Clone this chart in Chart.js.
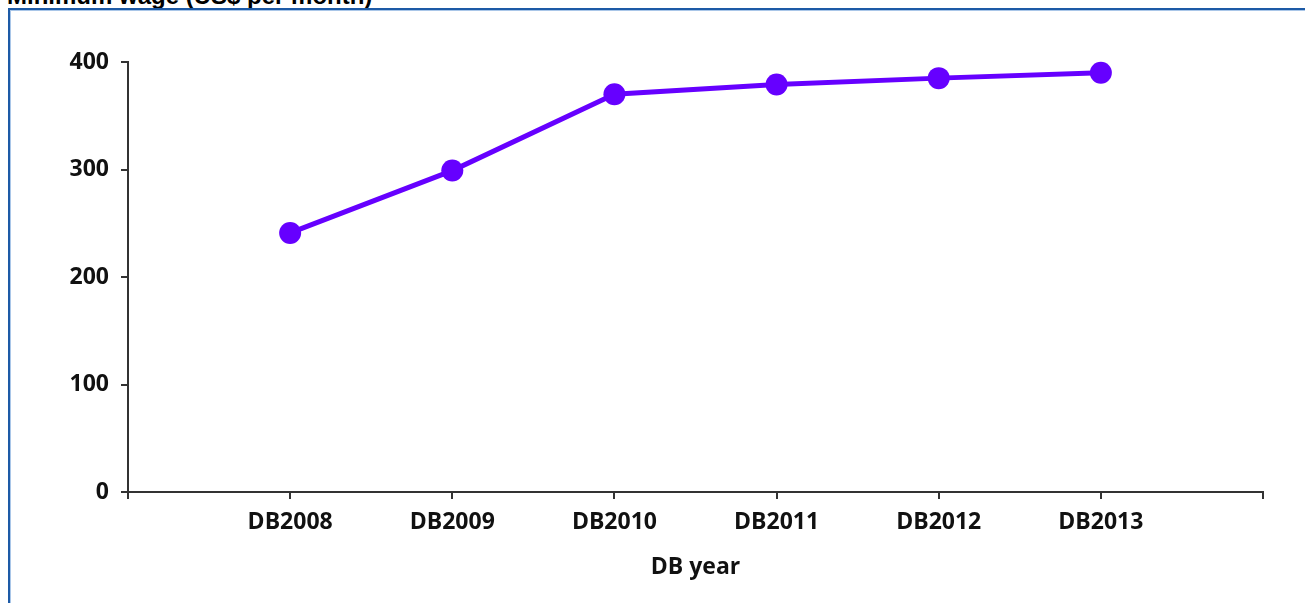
<!DOCTYPE html>
<html>
<head>
<meta charset="utf-8">
<script src="https://cdn.jsdelivr.net/npm/chart.js@4.4.1/dist/chart.umd.min.js"></script>
<style>
  html, body { margin: 0; padding: 0; background: #fff; overflow: hidden; }
  body { width: 1305px; height: 603px; position: relative; }
  #title {
    position: absolute; left: 7px; top: -16px;
    font: bold 24px "Liberation Sans", Arial, sans-serif;
    line-height: 24px; color: #000; white-space: nowrap;
  }
  #frame {
    position: absolute; left: 8px; top: 8px; width: 1400px; height: 700px;
    border-left: 2px solid #1d5aa6; border-top: 2px solid #1d5aa6;
    box-shadow: inset 1px 1px 0 #a9c6e8;
  }
  #wrap { position: absolute; left: 0; top: 0; width: 1305px; height: 603px; }
</style>
</head>
<body>
<div id="title">Minimum wage (US$ per month)</div>
<div id="frame"></div>
<div id="wrap"><canvas id="myChart" width="1305" height="603"></canvas></div>
<script>
var years = ["DB2008", "DB2009", "DB2010", "DB2011", "DB2012", "DB2013"];
var wage = [241, 299, 370, 379, 385, 390];
var yTicks = [0, 100, 200, 300, 400];

var LINE = '#6600ff';
var AXIS = '#333333';
var TEXT = '#111111';
var FONT = { family: '"Open Sans", sans-serif', size: 23, weight: 'bold' };

// blank slot on each side of the categories, like the original axis
var labels = [''].concat(years, ['']);
var values = [null].concat(wage, [null]);

new Chart("myChart", {
  type: "line",
  data: {
    labels: labels,
    datasets: [{
      label: 'Minimum wage',
      data: values,
      borderColor: LINE,
      backgroundColor: LINE,
      borderWidth: 5,
      pointRadius: 11,
      pointHoverRadius: 11,
      pointBorderWidth: 0,
      fill: false,
      tension: 0,
      clip: false
    }]
  },
  options: {
    responsive: false,
    animation: false,
    devicePixelRatio: 1,
    layout: { padding: { top: 62, right: 42, left: 0, bottom: 18 } },
    plugins: { legend: { display: false }, tooltip: { enabled: false } },
    scales: {
      x: {
        offset: false,
        grid: { display: true, drawOnChartArea: false, drawTicks: true, tickLength: 7, color: AXIS, lineWidth: 2 },
        border: { display: true, color: AXIS, width: 2 },
        ticks: { color: TEXT, font: FONT, padding: 10, maxRotation: 0, autoSkip: false },
        title: { display: true, text: 'DB year', color: TEXT, font: FONT, padding: { top: 8 } },
        afterFit: function (s) { s.height = 93; }
      },
      y: {
        min: 0,
        max: 400,
        afterBuildTicks: function (s) { s.ticks = yTicks.map(function (v) { return { value: v }; }); },
        grid: { display: true, drawOnChartArea: false, drawTicks: true, tickLength: 7, color: AXIS, lineWidth: 2 },
        border: { display: true, color: AXIS, width: 2 },
        ticks: { color: TEXT, font: FONT, padding: 12 },
        afterFit: function (s) { s.width = 128; }
      }
    }
  }
});
</script>
</body>
</html>
